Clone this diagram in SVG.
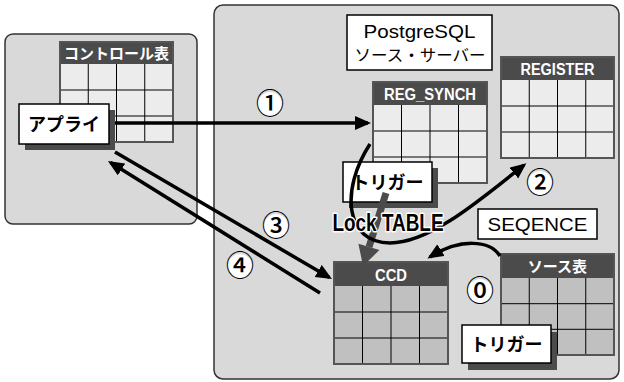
<svg xmlns="http://www.w3.org/2000/svg" width="624" height="382" viewBox="0 0 624 382">
<style>
.panel{fill:#d9d9d9;stroke:#333;stroke-width:1.5}
.hdr{fill:#4b4b4b}
.celL{fill:#ececec}
.celD{fill:#c0c0c0}
.grid{stroke:#000;stroke-width:1;fill:none}
.tframe{fill:none;stroke:#555;stroke-width:2}
.htxt{font-family:"Liberation Sans",sans-serif;font-weight:bold;font-size:16px;fill:#fff;text-anchor:middle}
.jhtxt{font-family:"Noto Sans CJK JP",sans-serif;font-weight:bold;font-size:15px;fill:#fff;text-anchor:middle}
.shadow{fill:#4b4b4b}
.wbox{fill:#fff;stroke:#000;stroke-width:1.5}
.jbtxt{font-family:"Noto Sans CJK JP",sans-serif;font-weight:bold;font-size:18px;fill:#000;text-anchor:middle}
.ltxt{font-family:"Liberation Sans",sans-serif;font-size:19px;fill:#000;text-anchor:middle}
.jtxt{font-family:"Noto Sans CJK JP",sans-serif;font-size:16px;fill:#000;text-anchor:middle}
.arr{fill:none;stroke:#000;stroke-width:3.5}
.num{font-family:"Noto Sans CJK JP",sans-serif;font-weight:500;font-size:28px;fill:#000;text-anchor:middle}
.ncirc{fill:#fff}
</style>
<defs>
<marker id="ah" markerUnits="userSpaceOnUse" markerWidth="17" markerHeight="15" refX="13" refY="7" orient="auto">
<path d="M0,0 L16,7 L0,14 Z" fill="#000"/>
</marker>
</defs>

<rect class="panel" x="5" y="34" width="192" height="190" rx="8"/>
<rect class="panel" x="214" y="5" width="405" height="374" rx="9"/>

<g id="server-label">
<rect class="wbox" x="347" y="15" width="145" height="55" stroke-width="1.2"/>
<text class="ltxt" x="419.5" y="38" textLength="112" lengthAdjust="spacingAndGlyphs">PostgreSQL</text>
<text class="jtxt" x="420" y="61" font-size="17" textLength="131" lengthAdjust="spacingAndGlyphs">ソース・サーバー</text>
</g>

<g id="control-table">
<rect class="celL" x="60" y="64" width="113" height="78"/>
<rect class="hdr" x="60" y="42" width="113" height="22"/>
<path class="grid" d="M88.25,64V142M116.5,64V142M144.75,64V142M60,90H173M60,116H173"/>
<rect class="tframe" x="60" y="42" width="113" height="100"/>
<text class="jhtxt" x="116.5" y="59">コントロール表</text>
</g>

<g id="reg-synch">
<rect class="celL" x="373" y="105" width="114" height="78"/>
<rect class="hdr" x="373" y="82" width="114" height="23"/>
<path class="grid" d="M401.5,105V183M430,105V183M458.5,105V183M373,131H487M373,157H487"/>
<rect class="tframe" x="373" y="82" width="114" height="101"/>
<text class="htxt" x="430" y="99.5" textLength="92" lengthAdjust="spacingAndGlyphs">REG_SYNCH</text>
</g>

<g id="register">
<rect class="celL" x="501" y="80" width="113" height="78"/>
<rect class="hdr" x="501" y="57" width="113" height="23"/>
<path class="grid" d="M529.25,80V158M557.5,80V158M585.75,80V158M501,106H614M501,132H614"/>
<rect class="tframe" x="501" y="57" width="113" height="101"/>
<text class="htxt" x="557.5" y="74.5" textLength="74" lengthAdjust="spacingAndGlyphs">REGISTER</text>
</g>

<g id="ccd">
<rect class="celD" x="334" y="286" width="114" height="78"/>
<rect class="hdr" x="334" y="262" width="114" height="24"/>
<path class="grid" d="M362.5,286V364M391,286V364M419.5,286V364M334,312H448M334,338H448"/>
<rect class="tframe" x="334" y="262" width="114" height="102"/>
<text class="htxt" x="391" y="280.5" textLength="32" lengthAdjust="spacingAndGlyphs">CCD</text>
</g>

<g id="source-table">
<rect class="celD" x="501" y="278" width="113" height="77"/>
<rect class="hdr" x="501" y="254" width="113" height="24"/>
<path class="grid" d="M529.25,278V355M557.5,278V355M585.75,278V355M501,303.7H614M501,329.3H614"/>
<rect class="tframe" x="501" y="254" width="113" height="101"/>
<text class="jhtxt" x="557.5" y="272" font-size="17">ソース表</text>
</g>

<g id="connectors">
<path class="arr" d="M110,123 H368" marker-end="url(#ah)"/>
<path class="arr" d="M115,152 L329.4,277.5" marker-end="url(#ah)"/>
<path class="arr" d="M320,293 L110.5,162.6" marker-end="url(#ah)"/>
<path class="arr" d="M500,256 C490,240 460,238 430,257" marker-end="url(#ah)"/>
</g>

<g id="apply">
<rect class="shadow" x="25" y="110" width="90" height="40"/>
<rect class="wbox" x="19" y="104" width="90" height="40"/>
<text class="jbtxt" x="64" y="131">アプライ</text>
</g>

<g id="trigger-1">
<rect class="shadow" x="349" y="168" width="89" height="40"/>
<rect class="wbox" x="343" y="162" width="89" height="40"/>
<text class="jbtxt" x="387.5" y="189">トリガー</text>
</g>

<g id="trigger-2">
<rect class="shadow" x="468" y="332" width="89" height="38"/>
<rect class="wbox" x="462" y="325" width="89" height="38"/>
<text class="jbtxt" x="506.5" y="351">トリガー</text>
</g>

<g id="lock-connectors">
<path d="M386,193 L369,247" stroke="#4b4b4b" stroke-width="7" fill="none"/>
<polygon points="363,266 379.4,250.1 358.4,243.7" fill="#4b4b4b"/>
<path class="arr" d="M370,144 C340,190 345,243 390,243 C430,243 480,200 524,165" marker-end="url(#ah)"/>
</g>

<text x="388" y="231" font-family="Liberation Sans,sans-serif" font-weight="bold" font-size="24" text-anchor="middle" textLength="111" lengthAdjust="spacingAndGlyphs" fill="#000" stroke="#fff" stroke-width="3" paint-order="stroke" stroke-linejoin="round">Lock TABLE</text>

<g id="sequence">
<rect class="wbox" x="478" y="209" width="119" height="30" stroke-width="1.2"/>
<text class="ltxt" x="537.5" y="230.5" textLength="100" lengthAdjust="spacingAndGlyphs">SEQENCE</text>
</g>

<g id="numbers">
<circle class="ncirc" cx="270" cy="104" r="12"/>
<text class="num" x="270" y="114">①</text>
<circle class="ncirc" cx="540" cy="183" r="12"/>
<text class="num" x="540" y="193">②</text>
<circle class="ncirc" cx="276" cy="226" r="12"/>
<text class="num" x="276" y="236">③</text>
<circle class="ncirc" cx="240" cy="266" r="12"/>
<text class="num" x="240" y="276">④</text>
<circle class="ncirc" cx="480" cy="291" r="12"/>
<text class="num" x="480" y="301">⓪</text>
</g>
</svg>
